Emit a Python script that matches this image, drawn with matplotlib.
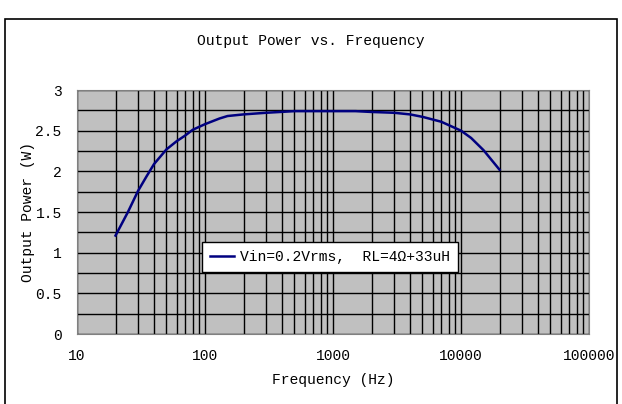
import numpy as np
import matplotlib
matplotlib.use("Agg")
import matplotlib.pyplot as plt
from matplotlib.patches import Rectangle

# values
freq_hz = [20, 25, 30, 35, 40, 50, 60, 70, 80, 100, 130, 150, 200, 300, 500,
           700, 1000, 1500, 2000, 3000, 4000, 5000, 7000, 10000, 12000, 15000, 20000]
power_w = [1.21, 1.50, 1.76, 1.94, 2.09, 2.27, 2.37, 2.44, 2.51, 2.58, 2.65, 2.68,
           2.70, 2.72, 2.74, 2.74, 2.74, 2.74, 2.73, 2.72, 2.70, 2.67, 2.61, 2.50,
           2.41, 2.26, 2.02]
series_label = "Vin=0.2Vrms,  RL=4\u03a9+33uH"

plt.rcParams['font.family'] = ['Liberation Mono', 'DejaVu Sans']
plt.rcParams['font.size'] = 10.5

fig = plt.figure(figsize=(6.22, 4.04), dpi=100)
# outer chart border
fig.patches.append(Rectangle((5 / 622, -0.01), 612 / 622, 1 - 19 / 404 + 0.01,
                             transform=fig.transFigure, fill=False,
                             edgecolor='black', linewidth=1.2))

ax = fig.add_axes([77 / 622, 1 - 334 / 404, 512 / 622, 244 / 404])
ax.set_facecolor('#C0C0C0')
ax.plot(freq_hz, power_w, color='#000080', linewidth=1.8, label=series_label)

ax.set_xscale('log')
ax.set_xlim(10, 100000)
ax.set_ylim(0, 3)
ax.set_xticks([10, 100, 1000, 10000, 100000])
ax.set_xticklabels(['10', '100', '1000', '10000', '100000'])
ax.set_yticks(np.arange(0, 3.01, 0.5))
ax.set_yticklabels(['0', '0.5', '1', '1.5', '2', '2.5', '3'])
ax.set_yticks(np.arange(0, 3.01, 0.25), minor=True)
ax.xaxis.set_minor_locator(matplotlib.ticker.LogLocator(base=10, subs=np.arange(2, 10)))
ax.xaxis.set_minor_formatter(matplotlib.ticker.NullFormatter())
ax.tick_params(which='both', length=0)
ax.tick_params(axis='x', pad=11)
ax.tick_params(axis='y', pad=11)
ax.grid(which='both', color='black', linewidth=1.0)
ax.set_axisbelow(True)
for s in ax.spines.values():
    s.set_color('#808080')

ax.set_xlabel('Frequency (Hz)')
ax.set_ylabel('Output Power (W)')
ax.xaxis.set_label_coords(0.5, (334 - 373) / 244)
ax.yaxis.set_label_coords((35 - 77) / 512, 0.5)
fig.text(311 / 622, 1 - 41 / 404, 'Output Power vs. Frequency', ha='center', va='center')

leg = ax.legend(loc='center', bbox_to_anchor=((330 - 77) / 512, (334 - 257) / 244),
                fancybox=False, framealpha=1, edgecolor='black', handlelength=1.6,
                handletextpad=0.4, borderpad=0.55, borderaxespad=0)
leg.get_frame().set_linewidth(1.0)

fig.savefig('out.png', dpi=100)
